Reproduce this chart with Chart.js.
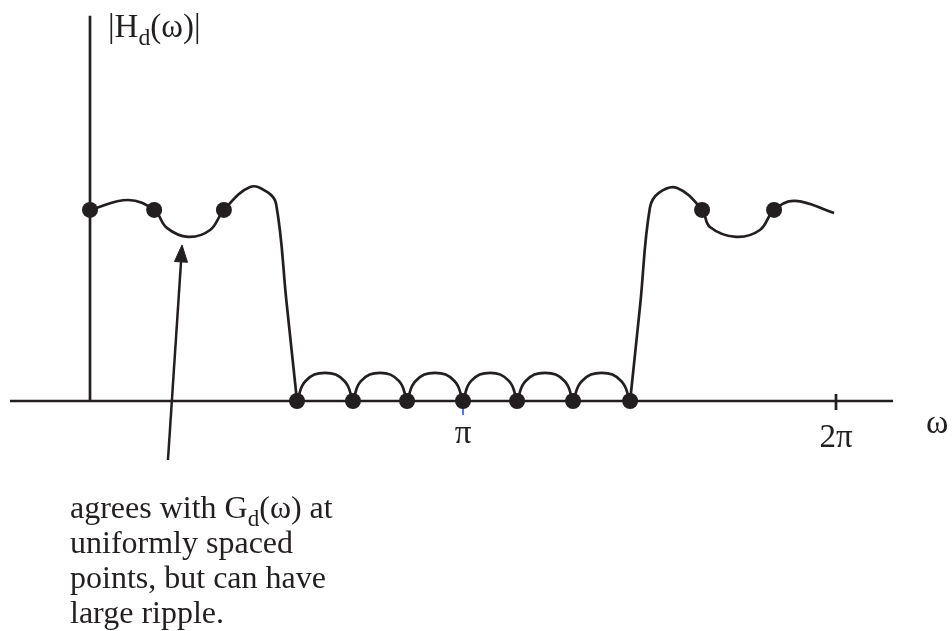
<!DOCTYPE html>
<html>
<head>
<meta charset="utf-8">
<title>|Hd(ω)| sampled frequency response</title>
<script src="https://cdn.jsdelivr.net/npm/chart.js@4/dist/chart.umd.min.js"></script>
<style>
  html, body { margin: 0; padding: 0; background: #fff; }
  #wrap { width: 952px; height: 631px; }
</style>
</head>
<body>
<div id="wrap"><canvas id="c" width="952" height="631"></canvas></div>
<script>
"use strict";

// frequency in units of pi, magnitude relative to passband level
let sampleW = [0, 0.172, 0.359, 0.555, 0.705, 0.85, 1.0, 1.145, 1.295, 1.448, 1.641, 1.834];
let sampleMag = [1, 1, 1, 0, 0, 0, 0, 0, 0, 0, 1, 1];

// left passband + falling edge
let leftW = [0, 0.102, 0.172, 0.206, 0.263, 0.322, 0.359, 0.429, 0.475, 0.499, 0.527, 0.555];
let leftMag = [1.0, 1.052, 1.0, 0.906, 0.859, 0.895, 1.0, 1.12, 1.094, 1.031, 0.515, 0];

// rising edge + right passband
let rightW = [1.448, 1.475, 1.501, 1.525, 1.574, 1.641, 1.662, 1.732, 1.796, 1.834, 1.89, 1.995];
let rightMag = [0, 0.503, 1.01, 1.089, 1.115, 1.0, 0.911, 0.859, 0.895, 1.0, 1.047, 0.984];

// stopband ripple lobes, one per pair of samples
let lobeW = [
  [0.555, 0.578, 0.63, 0.682, 0.705],
  [0.705, 0.727, 0.778, 0.828, 0.85],
  [0.85, 0.873, 0.925, 0.977, 1.0],
  [1.0, 1.022, 1.073, 1.123, 1.145],
  [1.145, 1.168, 1.22, 1.272, 1.295],
  [1.295, 1.319, 1.372, 1.424, 1.448],
];
let lobeMag = [0, 0.105, 0.147, 0.105, 0];

let tickW = [1, 2];
let tickText = ["π", "2π"];

let noteLines = [
  [["agrees with G", 0], ["d", 1], ["(ω) at", 0]],
  [["uniformly spaced", 0]],
  [["points, but can have", 0]],
  [["large ripple.", 0]],
];

const INK = "#231f20";
const SERIF = "'Liberation Serif', 'Times New Roman', serif";

function pts(xs, ys) {
  let out = [];
  for (let i = 0; i < xs.length; i++) {
    out.push({ x: xs[i], y: Array.isArray(ys) ? ys[i] : ys });
  }
  return out;
}

function lineSet(data, extra) {
  return Object.assign({
    data: data,
    showLine: true,
    borderColor: INK,
    borderWidth: 2.7,
    pointRadius: 0,
    fill: false,
    tension: 0,
  }, extra || {});
}

let datasets = [];

// sample dots on top
datasets.push({
  data: pts(sampleW, sampleMag),
  showLine: false,
  pointRadius: 8,
  pointBackgroundColor: INK,
  pointBorderColor: INK,
  pointBorderWidth: 0,
});

datasets.push(lineSet(pts(leftW, leftMag), { tension: 0.4 }));
datasets.push(lineSet(pts(rightW, rightMag), { tension: 0.4 }));
for (let i = 0; i < lobeW.length; i++) {
  datasets.push(lineSet(pts(lobeW[i], lobeMag), { tension: 0.45 }));
}

// axes
datasets.push(lineSet(pts([-0.2145, 2.153], 0)));
datasets.push(lineSet(pts([0, 0], [0, 2.016])));
// 2pi tick and the small blue mark under pi
datasets.push(lineSet(pts([2, 2], [0.037, -0.047])));
datasets.push(lineSet(pts([1, 1], [-0.021, -0.073]), { borderColor: "#4f7fd6", borderWidth: 2 }));

// arrow from the note up to the passband dip
datasets.push(lineSet(pts([0.209, 0.244], [-0.309, 0.728]), { borderWidth: 2.5 }));
datasets.push(lineSet(pts([0.2466, 0.2265, 0.2614, 0.2466], [0.817, 0.73, 0.726, 0.817]), {
  borderWidth: 1,
  fill: "shape",
  backgroundColor: INK,
}));

function drawRuns(ctx, x, y, runs, size) {
  for (let r of runs) {
    let sub = r[1] === 1;
    ctx.font = (sub ? size * 0.72 : size) + "px " + SERIF;
    ctx.fillText(r[0], x, sub ? y + size * 0.24 : y);
    x += ctx.measureText(r[0]).width;
  }
}

let labelPlugin = {
  id: "labels",
  afterDatasetsDraw(chart) {
    let ctx = chart.ctx;
    let xs = chart.scales.x;
    let ys = chart.scales.y;
    let x0 = xs.getPixelForValue(0);
    let y0 = ys.getPixelForValue(0);
    ctx.save();
    ctx.fillStyle = INK;
    ctx.textBaseline = "alphabetic";
    ctx.textAlign = "left";

    // y axis title
    drawRuns(ctx, x0 + 18, 37, [["|H", 0], ["d", 1], ["(ω)|", 0]], 33);

    // tick labels
    ctx.font = "33px " + SERIF;
    ctx.textAlign = "center";
    ctx.fillText(tickText[0], xs.getPixelForValue(tickW[0]), y0 + 42);
    ctx.fillText(tickText[1], xs.getPixelForValue(tickW[1]), y0 + 46);

    // x axis name
    ctx.textAlign = "left";
    ctx.font = "34px " + SERIF;
    ctx.fillText("ω", 926, y0 + 32);

    // note under the arrow
    for (let i = 0; i < noteLines.length; i++) {
      drawRuns(ctx, 70, 518 + i * 35, noteLines[i], 32);
    }
    ctx.restore();
  },
};

new Chart(document.getElementById("c"), {
  type: "scatter",
  data: { datasets: datasets },
  options: {
    responsive: false,
    devicePixelRatio: 1,
    animation: false,
    layout: { padding: 0, autoPadding: false },
    scales: {
      x: { type: "linear", display: false, min: -0.2413, max: 2.311 },
      y: { type: "linear", display: false, min: -1.204, max: 2.099 },
    },
    plugins: {
      legend: { display: false },
      tooltip: { enabled: false },
    },
  },
  plugins: [labelPlugin],
});
</script>
</body>
</html>
